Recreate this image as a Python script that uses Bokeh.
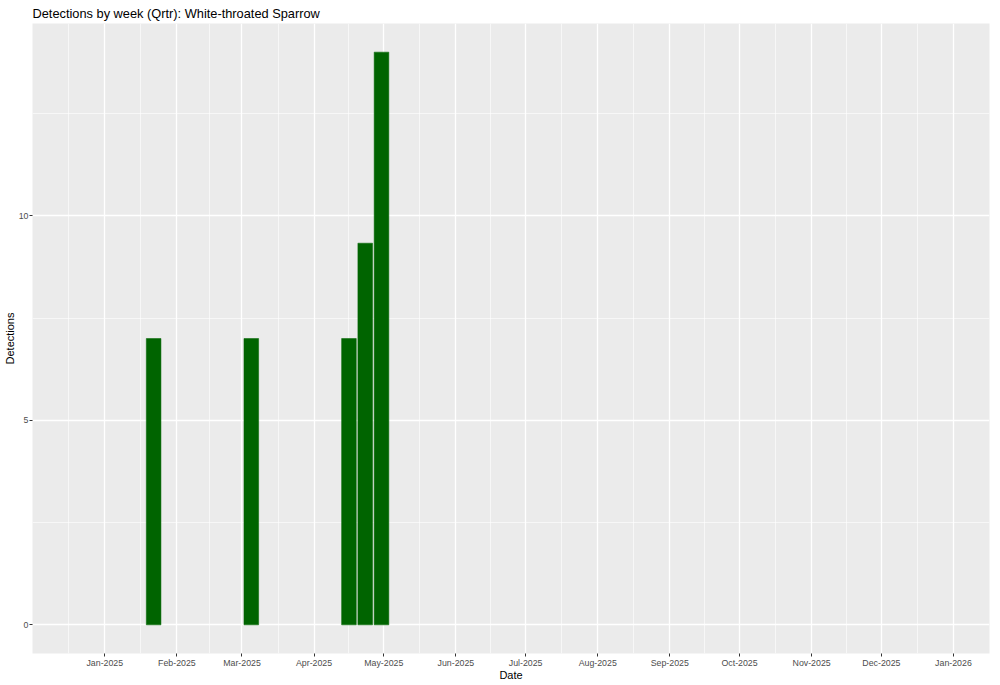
import pandas as pd
from bokeh.plotting import figure
from bokeh.models import Range1d, FixedTicker, DatetimeTickFormatter
from bokeh.embed import file_html
from bokeh.resources import INLINE

# ---- data ----
week_dates = ["2025-01-22", "2025-03-05", "2025-04-16", "2025-04-23", "2025-04-30"]
detections = [7, 7, 7, 9.33, 14]
y_ticks = [0, 5, 10]
month_starts = ["2024-12-01", "2025-01-01", "2025-02-01", "2025-03-01", "2025-04-01",
                "2025-05-01", "2025-06-01", "2025-07-01", "2025-08-01", "2025-09-01",
                "2025-10-01", "2025-11-01", "2025-12-01", "2026-01-01", "2026-02-01"]

FONT = "Liberation Sans"
DAY = 86400000.0

def ms(s):
    return pd.Timestamp(s).value / 1e6

x_dates = [pd.Timestamp(d) for d in week_dates]
majors = [ms(m) for m in month_starts]
minors = [(a + b) / 2 for a, b in zip(majors[:-1], majors[1:])]
shown_majors = majors[1:-1]

x_start = ms("2025-01-01") - 31.1 * DAY
x_end = ms("2026-01-01") + 15.5 * DAY

p = figure(width=1000, height=685, x_axis_type="datetime",
           output_backend="svg", toolbar_location=None,
           x_range=Range1d(x_start, x_end), y_range=Range1d(-0.7, 14.7),
           min_border_left=32, min_border_right=11, min_border_bottom=32, min_border_top=22,
           title="Detections by week (Qrtr): White-throated Sparrow")

p.vbar(x=x_dates, top=detections, bottom=0, width=6.3 * DAY,
       fill_color="#006400", line_color="#006400", line_width=0.5)

p.background_fill_color = "#EBEBEB"
p.border_fill_color = "white"
p.outline_line_color = None

p.title.text_font = FONT
p.title.text_font_size = "12.8px"
p.title.text_font_style = "normal"
p.title.text_color = "black"
p.title.standoff = 6

p.xaxis.ticker = FixedTicker(ticks=shown_majors, minor_ticks=minors)
p.xaxis.formatter = DatetimeTickFormatter(
    microseconds="%b-%Y", milliseconds="%b-%Y", seconds="%b-%Y", minsec="%b-%Y",
    minutes="%b-%Y", hourmin="%b-%Y", hours="%b-%Y", days="%b-%Y",
    months="%b-%Y", years="%b-%Y")
p.yaxis.ticker = FixedTicker(ticks=y_ticks, minor_ticks=[-2.5, 2.5, 7.5, 12.5])

p.xaxis.axis_label = "Date"
p.yaxis.axis_label = "Detections"
p.xaxis.axis_label_standoff = -2
p.yaxis.axis_label_standoff = 0

for ax in (p.xaxis[0], p.yaxis[0]):
    ax.axis_line_color = None
    ax.major_tick_line_color = "#333333"
    ax.major_tick_out = 3
    ax.major_tick_in = 0
    ax.minor_tick_out = 0
    ax.minor_tick_in = 0
    ax.major_label_text_font = FONT
    ax.major_label_text_font_size = "8.8px"
    ax.major_label_text_color = "#4D4D4D"
    ax.major_label_standoff = 1
    ax.axis_label_text_font = FONT
    ax.axis_label_text_font_size = "11px"
    ax.axis_label_text_font_style = "normal"
    ax.axis_label_text_color = "black"

for g in (p.xgrid[0], p.ygrid[0]):
    g.grid_line_color = "white"
    g.grid_line_width = 1.3
    g.minor_grid_line_color = "white"
    g.minor_grid_line_width = 0.6

open("out.html", "w").write(file_html(p, INLINE))
